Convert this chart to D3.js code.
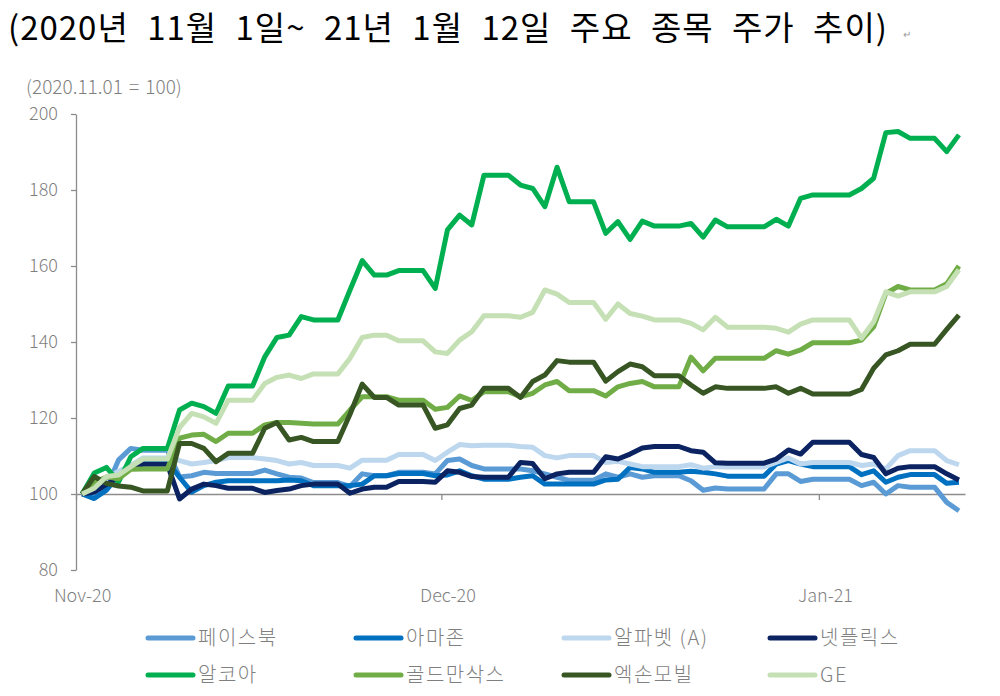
<!DOCTYPE html>
<html>
<head>
<meta charset="utf-8">
<script src="https://cdn.jsdelivr.net/npm/d3@7"></script>
<style>
  body { margin: 0; background: #fff; }
  text { font-family: "Noto Sans CJK KR", "Noto Sans", sans-serif; }
</style>
</head>
<body>
<div id="chart"></div>
<script>
// Daily values, 2020-11-01 .. 2021-01-12 (2020.11.01 = 100), weekends repeat Friday
const days = d3.timeDay.range(new Date(2020, 10, 1), new Date(2021, 0, 13));

const facebook = [
  100, 99.5, 101.5, 109, 112, 111.5, 111.5, 111.5, 104.5, 104.8,
  105.7, 105.4, 105.4, 105.4, 105.4, 106.3, 105.3, 104.4, 104.2, 103,
  103, 103, 102, 105.3, 104.8, 104.8, 105.7, 105.7, 105.7, 105.3,
  108.8, 109.2, 107.5, 106.6, 106.6, 106.6, 106.6, 106.1, 105.3, 104.4,
  103.6, 103.6, 103.6, 105.3, 104.4, 105.3, 104.4, 104.8, 104.8, 104.8,
  103.5, 101, 101.6, 101.3, 101.3, 101.3, 101.3, 105.3, 105.3, 103.3,
  103.9, 103.9, 103.9, 103.9, 102.2, 103.1, 100, 102.2, 101.8, 101.8,
  101.8, 97.8, 95.6];
const amazon = [
  100, 98.8, 101, 105, 107.5, 108.5, 108.5, 108.5, 104.4, 100.5,
  102.2, 103.1, 103.5, 103.5, 103.5, 103.5, 103.5, 103.7, 103.5, 102.2,
  102.2, 102.2, 102.2, 102.6, 104.8, 104.8, 105.4, 105.4, 105.4, 104.8,
  105, 106.1, 104.8, 103.9, 103.9, 103.9, 104.4, 104.8, 102.6, 102.6,
  102.6, 102.6, 102.6, 103.7, 103.9, 107, 106.6, 105.7, 105.7, 105.7,
  106, 105.7, 105.3, 104.7, 104.7, 104.7, 104.7, 107.9, 108.8, 107.9,
  107.2, 107.2, 107.2, 107.2, 105.1, 106.1, 103.1, 104.4, 105.1, 105.1,
  105.1, 102.8, 103.1];
const alphabet = [
  100, 101, 104, 106, 107.5, 109.5, 109.5, 109.5, 108.8, 107.9,
  108.3, 108.8, 109.6, 109.6, 109.6, 109.2, 108.8, 107.9, 108.3, 107.5,
  107.5, 107.5, 106.8, 108.9, 108.9, 108.9, 110.4, 110.4, 110.4, 108.8,
  111, 113, 112.7, 112.8, 112.8, 112.8, 112.5, 112.3, 110.1, 109.5,
  110.1, 110.1, 110.1, 108.3, 108.6, 107.9, 107.2, 107.2, 107.2, 107.2,
  107.7, 106.8, 107.2, 107.1, 107.1, 107.1, 107.1, 108.3, 109.5, 107.9,
  108.3, 108.3, 108.3, 108.3, 107.5, 107.9, 106.6, 110.1, 111.4, 111.4,
  111.4, 108.8, 107.7];
const netflix = [
  100, 100.5, 102.5, 104.5, 107, 107.8, 107.8, 107.8, 98.7, 101.3,
  102.6, 102.2, 101.5, 101.5, 101.5, 100.4, 100.9, 101.3, 102.2, 102.6,
  102.6, 102.6, 100.2, 101.3, 101.8, 101.8, 103.3, 103.3, 103.3, 103.1,
  106.1, 105.7, 104.6, 104.4, 104.4, 104.4, 108.3, 108, 104, 105.3,
  105.7, 105.7, 105.7, 109.8, 109.2, 110.5, 112.1, 112.5, 112.5, 112.5,
  111.4, 111, 108.2, 108.1, 108.1, 108.1, 108.1, 109.2, 111.6, 110.5,
  113.6, 113.6, 113.6, 113.6, 110.4, 109.6, 105.3, 106.8, 107.2, 107.2,
  107.2, 105.3, 103.7];
const alcoa = [
  100, 105.5, 107, 103.2, 109.8, 112, 112, 112, 122.1, 123.9,
  123, 121.2, 128.4, 128.4, 128.4, 136.1, 141.2, 141.8, 146.7, 145.8,
  145.8, 145.8, 153.7, 161.4, 157.6, 157.6, 158.8, 158.8, 158.8, 154.1,
  169.5, 173.4, 170.8, 183.9, 183.9, 183.9, 181.3, 180.4, 175.6, 186,
  176.9, 176.9, 176.9, 168.6, 171.7, 167, 171.8, 170.5, 170.5, 170.5,
  171.2, 167.6, 172.1, 170.3, 170.3, 170.3, 170.3, 172.3, 170.5, 177.8,
  178.7, 178.7, 178.7, 178.7, 180.4, 183.1, 195.1, 195.4, 193.6, 193.6,
  193.6, 190.1, 194.5];
const goldman = [
  100, 103, 104.5, 104, 106.5, 106.6, 106.6, 106.6, 114.7, 115.5,
  115.7, 113.8, 116, 116, 116, 118.2, 118.8, 118.8, 118.6, 118.4,
  118.4, 118.4, 122.1, 125.6, 125.6, 125.6, 124.7, 124.7, 124.7, 122.3,
  122.8, 125.8, 124.6, 126.9, 126.9, 126.9, 125.6, 126.5, 128.7, 129.6,
  127.2, 127.2, 127.2, 125.8, 128.2, 129.1, 129.6, 128.2, 128.2, 128.2,
  136, 132.4, 135.7, 135.7, 135.7, 135.7, 135.7, 137.7, 136.8, 137.9,
  139.8, 139.8, 139.8, 139.8, 140.5, 144, 152.8, 154.6, 153.7, 153.7,
  153.7, 155.3, 160];
const exxon = [
  100, 104.6, 102.8, 102.1, 101.8, 100.8, 100.8, 100.8, 113.3, 113.3,
  112, 108.5, 110.7, 110.7, 110.7, 117.3, 118.8, 114.2, 114.9, 113.8,
  113.8, 113.8, 121, 128.9, 125.4, 125.4, 123.4, 123.4, 123.4, 117.3,
  118.2, 122.5, 123.4, 127.8, 127.8, 127.8, 125.4, 129.6, 131.3, 135.1,
  134.7, 134.7, 134.7, 129.7, 132.2, 134.2, 133.5, 131.1, 131.1, 131.1,
  128.7, 126.5, 128.2, 127.8, 127.8, 127.8, 127.8, 128.2, 126.5, 127.8,
  126.3, 126.3, 126.3, 126.3, 127.5, 133.1, 136.6, 137.7, 139.4, 139.4,
  139.4, 143.3, 147.1];
const ge = [
  100, 101.5, 104.6, 105, 107.2, 109.2, 109.2, 109.2, 117.5, 121.2,
  120.3, 118.6, 124.7, 124.7, 124.7, 129.1, 130.7, 131.3, 130.4, 131.6,
  131.6, 131.6, 135.7, 141.2, 141.8, 141.8, 140.3, 140.3, 140.3, 137.4,
  137, 140.5, 142.7, 146.9, 146.9, 146.9, 146.5, 147.8, 153.7, 152.6,
  150.4, 150.4, 150.4, 146, 150, 147.5, 146.8, 145.8, 145.8, 145.8,
  144.9, 143.2, 146.5, 143.9, 143.9, 143.9, 143.9, 143.6, 142.6, 144.7,
  145.8, 145.8, 145.8, 145.8, 141, 145.3, 153.2, 152.1, 153.2, 153.2,
  153.2, 154.6, 159];

const names = ["페이스북", "아마존", "알파벳 (A)", "넷플릭스", "알코아", "골드만삭스", "엑손모빌", "GE"];
const colors = ["#5B9BD5", "#0070C0", "#BDD7EE", "#0B2361", "#00B050", "#70AD47", "#375623", "#C5E0B4"];
const values = [facebook, amazon, alphabet, netflix, alcoa, goldman, exxon, ge];
const yTicks = [80, 100, 120, 140, 160, 180, 200];
const xTicks = [new Date(2020, 10, 1), new Date(2020, 11, 1), new Date(2021, 0, 1)];

const W = 1000, H = 696;
const svg = d3.select("#chart").append("svg")
  .attr("width", W).attr("height", H);

// title, stretched between words to the width of the original
const title = svg.append("text")
  .attr("x", 8).attr("y", 40)
  .style("font-size", "33px").style("fill", "#000")
  .style("letter-spacing", "1px")
  .text("(2020년 11월 1일~ 21년 1월 12일 주요 종목 주가 추이)");
let tl = title.node().getComputedTextLength();
title.style("word-spacing", Math.max(0, (880 - tl) / 9) + "px");
svg.append("text").attr("x", 903).attr("y", 38)
  .style("font-size", "10px").style("fill", "#999").text("↵");

svg.append("text")
  .attr("x", 26).attr("y", 94)
  .style("font-size", "19px").style("fill", "#7f7f7f").style("font-weight", 300)
  .style("word-spacing", "2px")
  .text("(2020.11.01 = 100)");

// scales: each day occupies one slot, points sit in the middle of it
const x = d3.scaleTime()
  .domain([new Date(2020, 10, 1), new Date(2021, 0, 13)])
  .range([76, 965]);
const half = (x(new Date(2020, 10, 2)) - x(new Date(2020, 10, 1))) / 2;
const y = d3.scaleLinear().domain([80, 200]).range([570, 114]);

// y axis
const gy = svg.append("g")
  .attr("transform", "translate(76,0)")
  .call(d3.axisLeft(y).tickValues(yTicks).tickSize(5).tickSizeOuter(0).tickPadding(13));
gy.selectAll("path, line").attr("stroke", "#8c8c8c").attr("stroke-width", 1.3);
gy.selectAll("text").style("font-size", "18px").style("fill", "#7f7f7f")
  .style("font-family", "'Noto Sans CJK KR', sans-serif").style("font-weight", 300);

// x axis drawn through 100
const gx = svg.append("g")
  .attr("transform", "translate(0," + y(100) + ")")
  .call(d3.axisBottom(x).tickValues(xTicks).tickSize(6).tickSizeOuter(0)
    .tickFormat(d3.timeFormat("%b-%y")));
gx.selectAll("path, line").attr("stroke", "#8c8c8c").attr("stroke-width", 1.3);
gx.selectAll("text")
  .attr("x", half)
  .attr("y", y(80) - y(100) + 19)
  .style("font-size", "18px").style("fill", "#7f7f7f")
  .style("font-family", "'Noto Sans CJK KR', sans-serif").style("font-weight", 300);

// lines
const line = d3.line()
  .x((d, i) => x(days[i]) + half)
  .y(d => y(d));

svg.append("g").selectAll("path")
  .data(values)
  .enter()
  .append("path")
    .attr("d", d => line(d))
    .attr("fill", "none")
    .attr("stroke", (d, i) => colors[i])
    .attr("stroke-width", 5)
    .attr("stroke-linejoin", "round");

// legend, two rows of four
const cols = [148, 356, 564, 770];
const rows = [638, 675];
const lg = svg.append("g").selectAll("g")
  .data(names)
  .enter()
  .append("g")
    .attr("transform", (d, i) => "translate(" + cols[i % 4] + "," + rows[Math.floor(i / 4)] + ")");
lg.append("line")
  .attr("x1", 0).attr("x2", 45)
  .attr("stroke", (d, i) => colors[i])
  .attr("stroke-width", 5)
  .attr("stroke-linecap", "round");
lg.append("text")
  .attr("x", 50).attr("dy", "0.35em")
  .style("font-size", "20px").style("fill", "#7f7f7f").style("font-weight", 300)
  .style("letter-spacing", "1.5px")
  .text(d => d);
</script>
</body>
</html>
